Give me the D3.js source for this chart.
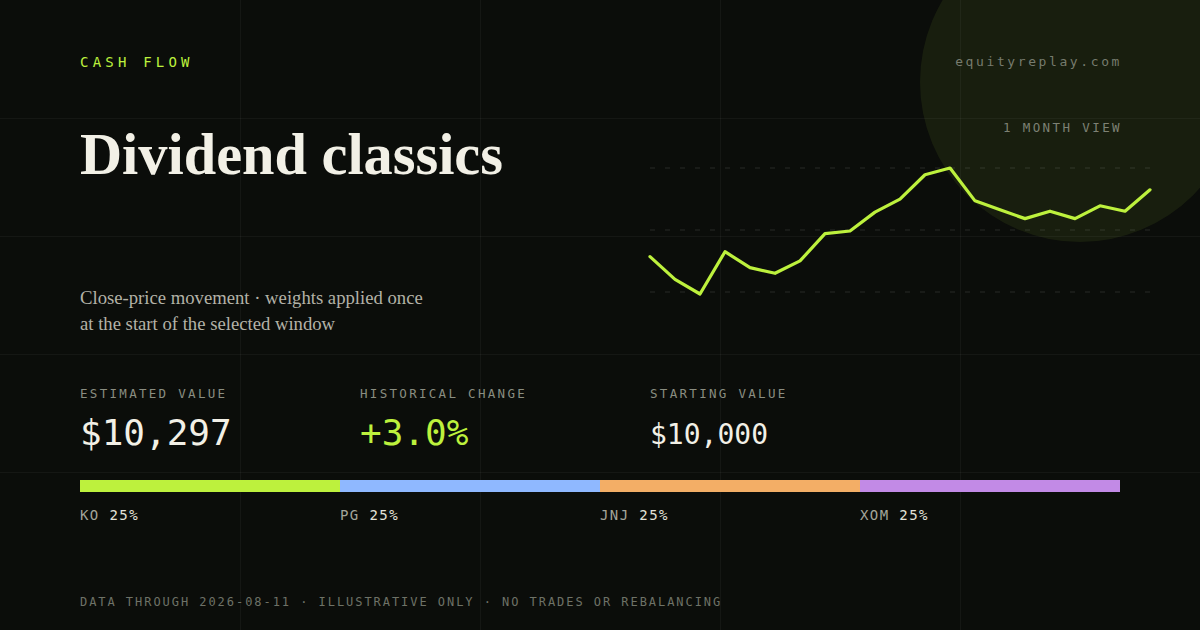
<!DOCTYPE html>
<html>
<head>
<meta charset="UTF-8">
<script src="https://d3js.org/d3.v7.min.js"></script>
<style>
  html, body { margin: 0; padding: 0; background: #0b0d0a; }
  svg { display: block; }
</style>
</head>
<body>
<div id="chart"></div>
<script>
// ---- data ----
const closes = [10000, 9899, 9834, 10022, 9951, 9926, 9981, 10102, 10114, 10198, 10256,
                10364, 10394, 10248, 10208, 10169, 10202, 10169, 10226, 10202, 10297];
const tickers = ["KO", "PG", "JNJ", "XOM"];
const weights = [25, 25, 25, 25];
const tickerColors = ["#bdf13d", "#8fb8ff", "#f3ae66", "#c28ae6"];
const statLabels = ["ESTIMATED VALUE", "HISTORICAL CHANGE", "STARTING VALUE"];
const statValues = ["$10,297", "+3.0%", "$10,000"];
const kicker = "CASH FLOW";
const site = "equityreplay.com";
const viewLabel = "1 MONTH VIEW";
const title = "Dividend classics";
const subtitle = ["Close-price movement \u00b7 weights applied once", "at the start of the selected window"];
const footer = "DATA THROUGH 2026-08-11 \u00b7 ILLUSTRATIVE ONLY \u00b7 NO TRADES OR REBALANCING";

const width = 1200, height = 630;
const lime = "#bdf13d";
const mono = "'DejaVu Sans Mono', 'Liberation Mono', monospace";
const serif = "'Liberation Serif', 'DejaVu Serif', serif";

const svg = d3.select("#chart").append("svg")
  .attr("width", width)
  .attr("height", height)
  .attr("viewBox", [0, 0, width, height]);

svg.append("rect").attr("width", width).attr("height", height).attr("fill", "#0b0d0a");

// glow circle top right
svg.append("circle")
  .attr("cx", 1080).attr("cy", 82).attr("r", 160)
  .attr("fill", lime).attr("fill-opacity", 0.075);

// background grid
const grid = svg.append("g").attr("stroke", "#ffffff").attr("stroke-opacity", 0.045).attr("stroke-width", 1);
grid.selectAll("line.v").data([240, 480, 720, 960]).join("line")
  .attr("x1", d => d + 0.5).attr("x2", d => d + 0.5).attr("y1", 0).attr("y2", height);
grid.selectAll("line.h").data([118, 236, 354, 472]).join("line")
  .attr("y1", d => d + 0.5).attr("y2", d => d + 0.5).attr("x1", 0).attr("x2", width);

// fit a text element to a target width by adjusting its font size
function fitWidth(sel, target) {
  const w = sel.node().getComputedTextLength();
  const fs = parseFloat(sel.attr("font-size"));
  sel.attr("font-size", fs * target / w);
}

// header texts
svg.append("text")
  .attr("x", 80).attr("y", 67)
  .attr("font-family", mono).attr("font-size", 14).attr("letter-spacing", 4.2)
  .attr("fill", lime).text(kicker);

svg.append("text")
  .attr("x", 1122).attr("y", 66).attr("text-anchor", "end")
  .attr("font-family", mono).attr("font-size", 13).attr("letter-spacing", 2.6)
  .attr("fill", "#767b6d").text(site);

svg.append("text")
  .attr("x", 1122).attr("y", 132).attr("text-anchor", "end")
  .attr("font-family", mono).attr("font-size", 12.5).attr("letter-spacing", 2.4)
  .attr("fill", "#7d8174").text(viewLabel);

const titleText = svg.append("text")
  .attr("x", 80).attr("y", 174)
  .attr("font-family", serif).attr("font-weight", 700).attr("font-size", 56)
  .attr("fill", "#f2f0e6").text(title);
fitWidth(titleText, 423);

const sub = svg.append("g").attr("font-family", serif).attr("fill", "#b3b2a7");
sub.selectAll("text").data(subtitle).join("text")
  .attr("x", 80).attr("y", (d, i) => 304 + i * 26)
  .attr("font-size", 17.5).text(d => d);
fitWidth(sub.select("text"), 343);
sub.selectAll("text").attr("font-size", sub.select("text").attr("font-size"));

// sparkline
const x = d3.scaleLinear().domain([0, closes.length - 1]).range([650, 1150]);
const y = d3.scaleLinear().domain(d3.extent(closes)).range([294, 168]);

svg.append("g")
  .selectAll("line").data([168, 230, 292]).join("line")
  .attr("x1", 650).attr("x2", 1152)
  .attr("y1", d => d).attr("y2", d => d)
  .attr("stroke", "#ffffff").attr("stroke-opacity", 0.08)
  .attr("stroke-width", 1.5).attr("stroke-dasharray", "5 10");

svg.append("path")
  .datum(closes)
  .attr("fill", "none")
  .attr("stroke", lime)
  .attr("stroke-width", 3.2)
  .attr("stroke-linejoin", "round")
  .attr("stroke-linecap", "round")
  .attr("d", d3.line().x((d, i) => x(i)).y(d => y(d)));

// stats
const statX = [80, 360, 650];
const statSize = [36, 36, 28];
const statColor = ["#f2f0e6", lime, "#f2f0e6"];
svg.append("g").selectAll("text").data(statLabels).join("text")
  .attr("x", (d, i) => statX[i]).attr("y", 398)
  .attr("font-family", mono).attr("font-size", 12.5).attr("letter-spacing", 2.3)
  .attr("fill", "#8a8d81").text(d => d);
svg.append("g").selectAll("text").data(statValues).join("text")
  .attr("x", (d, i) => statX[i]).attr("y", (d, i) => i === 2 ? 444 : 445)
  .attr("font-family", mono).attr("font-size", (d, i) => statSize[i])
  .attr("fill", (d, i) => statColor[i]).text(d => d);

// allocation bar
const starts = d3.cumsum([0].concat(weights)).slice(0, weights.length);
const bx = d3.scaleLinear().domain([0, d3.sum(weights)]).range([80, 1120]);
svg.append("g").selectAll("rect").data(weights).join("rect")
  .attr("x", (d, i) => bx(starts[i]))
  .attr("width", (d, i) => bx(starts[i] + d) - bx(starts[i]))
  .attr("y", 480).attr("height", 12)
  .attr("fill", (d, i) => tickerColors[i]);

const lbl = svg.append("g").selectAll("text").data(tickers).join("text")
  .attr("x", (d, i) => bx(starts[i])).attr("y", 520)
  .attr("font-family", mono).attr("font-size", 14).attr("letter-spacing", 1.4);
lbl.append("tspan").attr("fill", "#a3a59a").text(d => d + " ");
lbl.append("tspan").attr("fill", "#e4e2d8").text((d, i) => weights[i] + "%");

// footer
svg.append("text")
  .attr("x", 80).attr("y", 606)
  .attr("font-family", mono).attr("font-size", 12).attr("letter-spacing", 1.95)
  .attr("fill", "#6e7267").text(footer);
</script>
</body>
</html>
